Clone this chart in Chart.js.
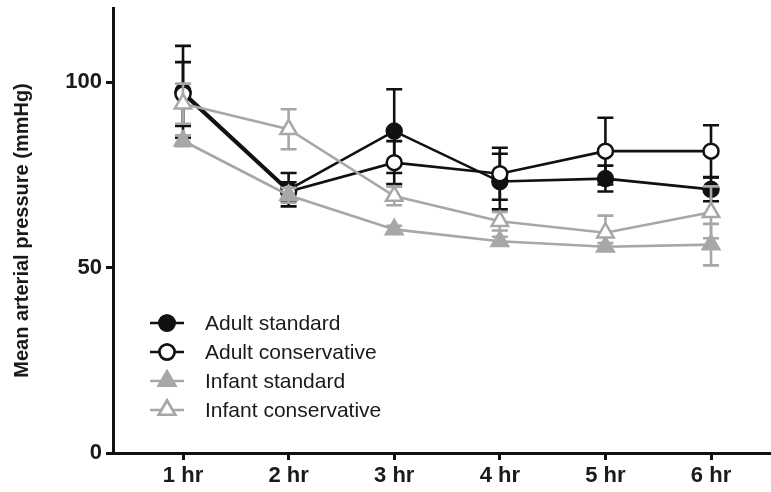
<!DOCTYPE html>
<html>
<head>
<meta charset="utf-8">
<script src="https://cdn.jsdelivr.net/npm/chart.js@4/dist/chart.umd.min.js"></script>
<style>
  html, body { margin: 0; padding: 0; background: #fff; }
  #wrap { width: 771px; height: 492px; }
</style>
</head>
<body>
<div id="wrap"><canvas id="c" width="771" height="492"></canvas></div>
<script>
// Time points after start of the protocol
const timepoints = ['1 hr', '2 hr', '3 hr', '4 hr', '5 hr', '6 hr'];

// Mean arterial pressure (mmHg), mean and error per group
const adultStandard = [97.4, 71, 86.8, 73.2, 74, 71.1];
const adultStandardErr = [12.4, 4.5, 11.3, 7.5, 3.5, 3.2];
const adultConservative = [96.8, 70.5, 78.3, 75.3, 81.4, 81.4];
const adultConservativeErr = [8.6, 2.5, 5.8, 7, 9, 7];
const infantStandard = [84.2, 69.5, 60.3, 57.1, 55.6, 56.2];
const infantStandardErr = [1.5, 2, 1, 1.2, 1, 5.6];
const infantConservative = [94.2, 87.3, 69.3, 62.5, 59.4, 64.9];
const infantConservativeErr = [5.4, 5.4, 2.5, 2.5, 4.6, 7];

const yTicks = [0, 50, 100];

const BLACK = '#111111';
const GREY = '#a7a7a9';

function toPoints(values) {
  return values.map((v, i) => ({ x: i + 1, y: v }));
}

function series(label, values, errors, color, fill, shape, radius, order) {
  return {
    label,
    data: toPoints(values),
    errors,
    borderColor: color,
    backgroundColor: fill,
    pointBackgroundColor: fill,
    pointBorderColor: color,
    pointStyle: shape,
    pointRadius: radius,
    pointBorderWidth: 2.5,
    borderWidth: 2.6,
    tension: 0,
    clip: false,
    order
  };
}

const datasets = [
  series('Adult standard', adultStandard, adultStandardErr, BLACK, BLACK, 'circle', 7.5, 4),
  series('Adult conservative', adultConservative, adultConservativeErr, BLACK, '#ffffff', 'circle', 7.5, 3),
  series('Infant standard', infantStandard, infantStandardErr, GREY, GREY, 'triangle', 9.5, 2),
  series('Infant conservative', infantConservative, infantConservativeErr, GREY, '#ffffff', 'triangle', 9.5, 1)
];

// Vertical error bars with caps, drawn under each series' own line and markers
const errorBars = {
  id: 'errorBars',
  beforeDatasetDraw(chart, args) {
    const ds = chart.data.datasets[args.index];
    const { x: xs, y: ys } = chart.scales;
    const ctx = chart.ctx;
    ctx.save();
    ctx.strokeStyle = ds.borderColor;
    ctx.lineWidth = 2.6;
    ds.data.forEach((p, i) => {
      const e = ds.errors[i];
      const px = xs.getPixelForValue(p.x);
      const top = ys.getPixelForValue(p.y + e);
      const bot = ys.getPixelForValue(p.y - e);
      const cap = 8;
      ctx.beginPath();
      ctx.moveTo(px, top); ctx.lineTo(px, bot);
      ctx.moveTo(px - cap, top); ctx.lineTo(px + cap, top);
      ctx.moveTo(px - cap, bot); ctx.lineTo(px + cap, bot);
      ctx.stroke();
    });
    ctx.restore();
  }
};

// Legend: short line through each marker, followed by the group name
const markerLegend = {
  id: 'markerLegend',
  afterDraw(chart) {
    const ctx = chart.ctx;
    const x0 = 150, x1 = 184, mx = 167, tx = 205;
    const rows = [323, 352, 381, 410];
    ctx.save();
    chart.data.datasets.forEach((ds, i) => {
      const y = rows[i];
      ctx.strokeStyle = ds.borderColor;
      ctx.lineWidth = 2.6;
      ctx.beginPath();
      ctx.moveTo(x0, y); ctx.lineTo(x1, y);
      ctx.stroke();
      ctx.fillStyle = ds.pointBackgroundColor;
      Chart.helpers.drawPoint(ctx, {
        pointStyle: ds.pointStyle,
        radius: ds.pointRadius,
        borderWidth: ds.pointBorderWidth
      }, mx, y);
      ctx.lineWidth = ds.pointBorderWidth;
      ctx.fill();
      ctx.stroke();
      ctx.fillStyle = '#1a1a1a';
      ctx.font = '21px "Liberation Sans", Arial, sans-serif';
      ctx.textBaseline = 'middle';
      ctx.textAlign = 'left';
      ctx.fillText(ds.label, tx, y + 1);
    });
    ctx.restore();
  }
};

const tickFont = { family: '"Liberation Sans", Arial, sans-serif', size: 22, weight: 'bold' };

new Chart(document.getElementById('c'), {
  type: 'line',
  data: { datasets },
  plugins: [errorBars, markerLegend],
  options: {
    responsive: false,
    animation: false,
    layout: { autoPadding: false, padding: { top: 8, right: 0, left: 0, bottom: 0 } },
    plugins: { legend: { display: false }, tooltip: { enabled: false } },
    scales: {
      x: {
        type: 'linear',
        min: 0.337,
        max: 6.568,
        afterBuildTicks(scale) {
          scale.ticks = timepoints.map((_, i) => ({ value: i + 1 }));
        },
        afterFit(scale) {
          scale.height = 39;
          scale.paddingLeft = 0;
          scale.paddingRight = 0;
        },
        grid: { drawOnChartArea: false, drawTicks: true, tickLength: 7, tickWidth: 3, tickColor: BLACK },
        border: { display: true, width: 3, color: BLACK },
        ticks: {
          color: '#1a1a1a',
          font: tickFont,
          padding: 3,
          maxRotation: 0,
          autoSkip: false,
          callback: (v) => timepoints[v - 1]
        }
      },
      y: {
        min: 0,
        max: 120,
        afterBuildTicks(scale) {
          scale.ticks = yTicks.map((v) => ({ value: v }));
        },
        afterFit(scale) {
          scale.width = 113;
          scale.paddingTop = 0;
          scale.paddingBottom = 0;
        },
        grid: { drawOnChartArea: false, drawTicks: true, tickLength: 7, tickWidth: 3, tickColor: BLACK },
        border: { display: true, width: 3, color: BLACK },
        ticks: { color: '#1a1a1a', font: tickFont, padding: 4 },
        title: {
          display: true,
          text: 'Mean arterial pressure (mmHg)',
          color: '#1a1a1a',
          font: { family: '"Liberation Sans", Arial, sans-serif', size: 20, weight: 'bold' },
          padding: { top: 10, bottom: 0 }
        }
      }
    }
  }
});
</script>
</body>
</html>
